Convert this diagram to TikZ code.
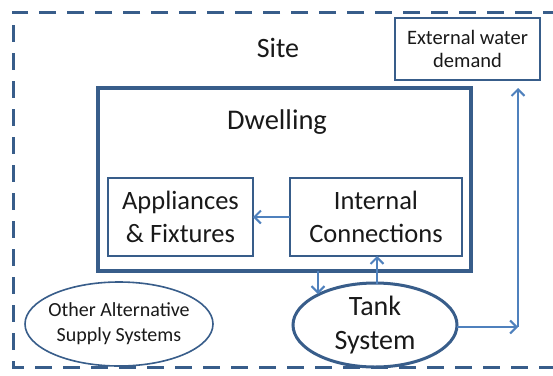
\documentclass[tikz,border=0pt]{standalone}
\usepackage{fontspec}
\setmainfont{Carlito}
\usetikzlibrary{arrows.meta,shapes.geometric}
\definecolor{edge}{RGB}{56,93,138}
\definecolor{flow}{RGB}{79,129,189}
\definecolor{ink}{RGB}{25,25,25}
\begin{document}
\begin{tikzpicture}[x=1pt,y=-1pt,
  txt/.style={text=ink,align=center,inner sep=0pt},
  box/.style={draw=edge,line width=1.4pt},
  flowline/.style={draw=flow,line width=2.2pt,-{Straight Barb[length=6.5pt,width=13pt,line width=2pt]}}]
\useasboundingbox (0,0) rectangle (553,375);
\fill[white] (0,0) rectangle (553,375);
\clip (0,0) rectangle (553,375);
% site
\draw[edge,line width=3pt,dash pattern=on 17pt off 11pt] (560,12) -- (13,12) -- (13,367) -- (560,367);
\node[txt,font=\fontsize{28}{32}\selectfont] (site) at (278,48) {Site};
% external demand
\draw[box,line width=2.4pt] (395,18) rectangle (540,80);
\node[txt,font=\fontsize{20.5}{23}\selectfont] (ext) at (467.5,49) {External water\\demand};
\coordinate (extin) at (518,88);
% dwelling
\draw[box,line width=3.5pt] (98,88) rectangle (471,271);
\node[txt,font=\fontsize{28.5}{32}\selectfont] (dw) at (277,122) {Dwelling};
\draw[box] (108,178) rectangle (253,256);
\node[txt,font=\fontsize{26.5}{33}\selectfont] (app) at (180.5,217) {Appliances\\\& Fixtures};
\draw[box] (290,178) rectangle (462,256);
\node[txt,font=\fontsize{26.5}{33}\selectfont] (int) at (376,217) {Internal\\Connections};
\coordinate (appR) at (253,217);
\coordinate (intL) at (290,217);
% tank
\node[draw=edge,line width=3pt,ellipse,minimum width=164pt,minimum height=84pt,inner sep=0pt] (tank) at (375,325) {};
\node[txt,font=\fontsize{28}{34}\selectfont] at (375,325) {Tank\\System};
% other
\node[draw=edge,line width=1.6pt,ellipse,minimum width=188pt,minimum height=84pt,inner sep=0pt] (oth) at (119,324) {};
\node[txt,font=\fontsize{20}{25}\selectfont] at (119,324) {Other Alternative\\Supply Systems};
% connectors
\coordinate (dwout) at (318,271);
\coordinate (tankin) at (318,294);
\coordinate (tankout) at (377,284);
\coordinate (intin) at (377,256);
\coordinate (tankright) at (457,327);
\coordinate (corner) at (518,327);
\draw[flowline] (intL) -- (appR);
\draw[flowline] (dwout) -- (tankin);
\draw[flowline] (tankout) -- (intin);
\draw[flowline] (tankright) -- (corner);
\draw[flowline] (corner) -- (extin);
\end{tikzpicture}
\end{document}
